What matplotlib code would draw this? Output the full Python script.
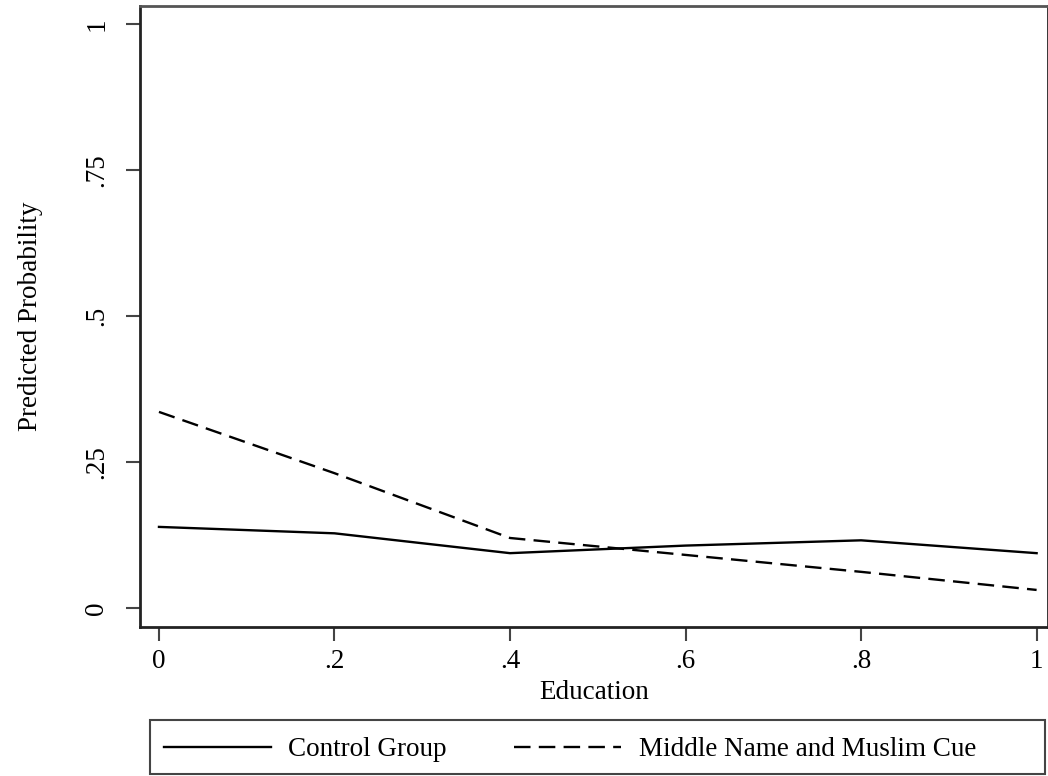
import matplotlib
matplotlib.use('Agg')
import matplotlib.pyplot as plt
from matplotlib.patches import Rectangle

# Education levels and predicted probabilities
education = [0, 0.2, 0.4, 0.6, 0.8, 1.0]
control = [0.139, 0.128, 0.094, 0.107, 0.116, 0.094]
muslim_cue = [0.336, 0.231, 0.120, 0.091, 0.062, 0.031]

plt.rcParams['font.family'] = 'Liberation Serif'
plt.rcParams['font.size'] = 19.5

fig = plt.figure(figsize=(10.48, 7.76), dpi=100)
ax = fig.add_axes([0.1336, 0.192, 0.866, 0.8])

dash = (0, (7, 3.5))
ax.plot(education, control, color='black', lw=1.7, label='Control Group')
ax.plot(education, muslim_cue, color='black', lw=1.7, ls=dash,
        label='Middle Name and Muslim Cue')

ax.set_xlim(-0.0216, 1.0125)
ax.set_ylim(-0.0325, 1.031)
ax.set_xticks([0, 0.2, 0.4, 0.6, 0.8, 1])
ax.set_xticklabels(['0', '.2', '.4', '.6', '.8', '1'])
ax.set_yticks([0, 0.25, 0.5, 0.75, 1])
ax.set_yticklabels(['0', '.25', '.5', '.75', '1'], rotation=90, va='center')
ax.tick_params(length=10, width=1.5, color='#444444', pad=6)
ax.tick_params(axis='y', pad=12)
for s in ax.spines.values():
    s.set_linewidth(2)
    s.set_color('#222222')
ax.spines['top'].set_color('#555555')

ax.set_xlabel('Education', labelpad=4)
ax.set_ylabel('Predicted Probability', labelpad=30)

# legend entries without frame, then a wider box around them like Stata draws
leg = fig.legend(loc='center left', bbox_to_anchor=(150 / 1048, 26 / 776),
                 ncol=2, handlelength=3.95, handletextpad=0.65,
                 columnspacing=2.5, borderpad=0.0, frameon=False)
fig.patches.append(Rectangle((150 / 1048, 2 / 776), 895 / 1048, 54 / 776,
                             transform=fig.transFigure, fill=False,
                             edgecolor='#444444', lw=1.5))

fig.savefig('out.png', dpi=100)
